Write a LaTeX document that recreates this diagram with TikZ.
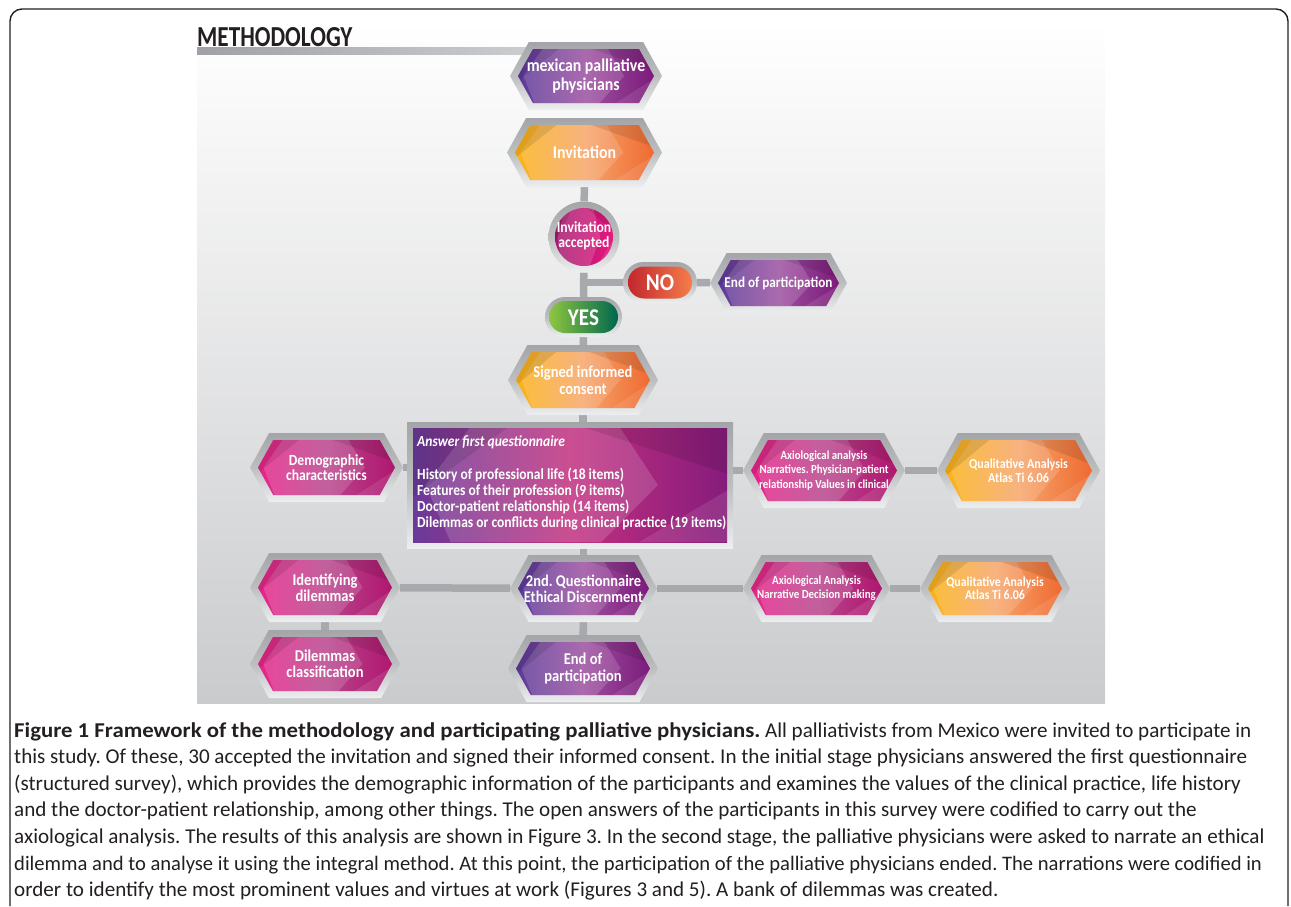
\documentclass[tikz,border=0pt]{standalone}
\usepackage{fontspec}
\setmainfont{Carlito}
\newfontfamily\labfont[FakeStretch=0.88]{Carlito}
\newfontfamily\headfont[FakeStretch=0.8]{Carlito}
\newfontfamily\capboldfont[FakeStretch=1.08]{Carlito}
\usetikzlibrary{shapes.symbols,shapes.misc,calc}
\pgfdeclarelayer{back}
\pgfsetlayers{back,main}
\frenchspacing

\definecolor{purpL}{HTML}{5B3A99}
\definecolor{purpM}{HTML}{9C50A0}
\definecolor{purpR}{HTML}{7D1B7B}
\definecolor{orngL}{HTML}{FBB316}
\definecolor{orngM}{HTML}{F6A66A}
\definecolor{orngR}{HTML}{EF6A32}
\definecolor{magL}{HTML}{E8258A}
\definecolor{magM}{HTML}{B8458C}
\definecolor{magR}{HTML}{B0176F}
\definecolor{circL}{HTML}{A3196F}
\definecolor{circR}{HTML}{E7197F}
\definecolor{noL}{HTML}{C2272D}
\definecolor{noR}{HTML}{F47D4C}
\definecolor{yesL}{HTML}{8DC63F}
\definecolor{yesR}{HTML}{00674F}
\definecolor{rectL}{HTML}{6A3A98}
\definecolor{rectM}{HTML}{C2307F}
\definecolor{rectR}{HTML}{861C7C}
\definecolor{silvTop}{HTML}{A3A5A8}
\definecolor{silvMid}{HTML}{BCBEC0}
\definecolor{silvBot}{HTML}{EDEEEF}
\definecolor{connGray}{HTML}{A7A9AC}
\definecolor{panelBot}{HTML}{CACBCD}
\definecolor{barL}{HTML}{9FA1A4}
\definecolor{barR}{HTML}{D3D4D6}
\definecolor{ink}{HTML}{231F20}

\newcommand\fs[2]{\fontsize{#1}{#2}\selectfont}
% fractional points inside a path picture (used within a let scope)
\newcommand\fx[1]{{\x1+#1*(\x2-\x1)}}
\newcommand\fy[1]{{\y2+#1*(\y1-\y2)}}

\tikzset{
  conn/.style={draw=connGray, line width=7.5pt},
  silver/.style={draw=none, top color=silvTop, bottom color=silvBot, middle color=silvMid},
  facets/.style={path picture={
    \fill[white, opacity=.15] let \p1=(path picture bounding box.south west), \p2=(path picture bounding box.north east) in
      (\fx{.18},\fy{0}) -- (\fx{.66},\fy{0}) -- (\fx{.78},\fy{.5}) -- (\fx{.6},\fy{1}) -- (\fx{.12},\fy{1}) -- (\fx{.04},\fy{.5}) -- cycle;
    \fill[black, opacity=.10] let \p1=(path picture bounding box.south west), \p2=(path picture bounding box.north east) in
      (\fx{.55},\fy{0}) -- (\fx{1},\fy{0}) -- (\fx{1},\fy{.4}) -- cycle;
    \fill[white, opacity=.10] let \p1=(path picture bounding box.south west), \p2=(path picture bounding box.north east) in
      (\fx{.72},\fy{1}) -- (\fx{1},\fy{.55}) -- (\fx{1},\fy{1}) -- cycle;
    \fill[black, opacity=.10] let \p1=(path picture bounding box.south west), \p2=(path picture bounding box.north east) in
      (\fx{0},\fy{0}) -- (\fx{.3},\fy{0}) -- (\fx{0},\fy{.6}) -- cycle;
  }},
  hexshape/.style={shape=signal, signal to=west and east, signal pointer angle=122, inner sep=0pt, outer sep=0pt},
  hexframe/.style={hexshape, silver},
  hexcore/.style={hexshape, draw=none, facets},
  labeltext/.style={text=white, align=center, inner sep=0pt},
  purplefill/.style={left color=purpL, right color=purpR, middle color=purpM},
  orangefill/.style={left color=orngL, right color=orngR, middle color=orngM},
  magentafill/.style={left color=magL, right color=magR, middle color=magM},
  circfill/.style={left color=circL, right color=circR},
  nofill/.style={left color=noL, right color=noR},
  yesfill/.style={left color=yesL, right color=yesR},
  rectfill/.style={left color=rectL, right color=rectR, middle color=rectM},
  captext/.style={anchor=base west, inner sep=0pt, text=ink, font=\fs{21.1}{25}},
}

% hexagonal box: name, x, y, width, height, palette, font size, line skip, text
\newcommand\hexbox[9]{%
  \pgfmathsetmacro\hexiw{#4-16}%
  \pgfmathsetmacro\hexih{#5-14}%
  \node[hexframe, minimum width=#4, minimum height=#5] (#1) at (#2,#3) {};
  \node[hexcore, #6, minimum width=\hexiw, minimum height=\hexih] (#1-in) at (#2,#3) {};
  \node[labeltext, font=\labfont\bfseries\fs{#7}{#8}] (#1-t) at (#2,#3) {#9};
}

\begin{document}
\begin{tikzpicture}[x=1pt, y=-1pt]
\useasboundingbox (0,0) rectangle (1291,906);

% outer frame
\draw[line width=1.4pt, draw=ink, rounded corners=12pt] (10,906) -- (10,9) -- (1288,9) -- (1288,906);

\begin{pgfonlayer}{back}
  \shade[top color=white, bottom color=panelBot] (197,22) rectangle (1105,703);
\end{pgfonlayer}

% heading
\node[anchor=base west, inner sep=0pt, text=ink, font=\headfont\bfseries\fs{29}{29}] (title) at (197,46) {METHODOLOGY};
\coordinate (barstart) at (197,51);

% main column
\hexbox{mex}{586}{76}{152}{68}{purplefill}{18}{19}{mexican palliative\\physicians}
\hexbox{inv}{584.5}{152.5}{155}{69}{orangefill}{18}{19}{Invitation}

\node[circle, silver, minimum size=71, inner sep=0pt] (acc) at (584,237) {};
\node[circle, draw=none, circfill, facets, minimum size=58, inner sep=0pt] (acc-in) at (584,237) {};
\node[labeltext, font=\labfont\bfseries\fs{15.5}{15.5}] (acc-t) at (584,236) {Invitation\\accepted};

\node[rounded rectangle, silver, minimum width=74, minimum height=41, inner sep=0pt] (no) at (660,282.5) {};
\node[rounded rectangle, draw=none, nofill, minimum width=64, minimum height=32, inner sep=0pt] (no-in) at (660,282.5) {};
\node[labeltext, font=\labfont\bfseries\fs{24}{24}] (no-t) at (660,283) {NO};

\hexbox{end1}{778.5}{283}{137}{60}{purplefill}{15}{15}{End of participation}

\node[rounded rectangle, silver, minimum width=77, minimum height=40, inner sep=0pt] (yes) at (583.5,317) {};
\node[rounded rectangle, draw=none, yesfill, minimum width=69, minimum height=32, inner sep=0pt] (yes-in) at (583.5,317) {};
\node[labeltext, font=\labfont\bfseries\fs{24}{24}] (yes-t) at (583.5,317.5) {YES};

\hexbox{consent}{583}{380}{150}{70}{orangefill}{16.5}{17}{Signed informed\\consent}

% first questionnaire
\node[rectangle, silver, minimum width=326, minimum height=126, inner sep=0pt] (q1) at (570,485) {};
\node[rectangle, draw=none, rectfill, facets, minimum width=314, minimum height=114, inner sep=0pt] (q1-in) at (570,485) {};
\node[anchor=north west, align=left, text=white, inner sep=0pt, font=\labfont\bfseries\fs{15.4}{16}] (q1-t) at (417,435.5)
  {{\itshape Answer first questionnaire}\\[17pt]
   History of professional life (18 items)\\
   Features of their profession (9 items)\\
   Doctor-patient relationship (14 items)\\
   Dilemmas or conflicts during clinical practice (19 items)};

\hexbox{demo}{326.5}{467.5}{153}{69}{magentafill}{15.5}{14.5}{Demographic\\characteristics}
\hexbox{axio1}{824}{470.5}{162}{75}{magentafill}{12.3}{14.5}{Axiological analysis\\Narratives. Physician-patient\\relationship Values in clinical}
\hexbox{qual1}{1018.5}{470.5}{163}{75}{orangefill}{13.7}{13.5}{Qualitative Analysis\\Atlas Ti 6.06}

% second questionnaire
\hexbox{q2}{583.5}{588.5}{147}{67}{purplefill}{16.4}{15.7}{2nd. Questionnaire\\Ethical Discernment}
\hexbox{ident}{325}{587.5}{150}{69}{magentafill}{16.5}{15.7}{Identifying\\dilemmas}
\hexbox{dclass}{325}{664}{150}{68}{magentafill}{16.5}{16.5}{Dilemmas\\classification}
\hexbox{end2}{583}{668.5}{150}{67}{purplefill}{16.5}{16.7}{End of\\participation}
\hexbox{axio2}{816.5}{588.5}{147}{67}{magentafill}{12.4}{14.3}{Axiological Analysis\\Narrative Decision making}
\hexbox{qual2}{995}{588.5}{150}{67}{orangefill}{13.5}{13.5}{Qualitative Analysis\\Atlas Ti 6.06}

% connectors
\begin{pgfonlayer}{back}
  \shade[left color=barL, right color=barR] ($(barstart)+(0,-3.5)$) rectangle ($(barstart -| mex)+(0,3.5)$);
  \draw[conn] (inv) -- (acc);
  \draw[conn] (acc) -- (yes);
  \draw[conn] (acc |- no) -- (no);
  \draw[conn] (no) -- (end1);
  \draw[conn] (yes) -- (consent);
  \draw[conn] (consent) -- (consent |- q1);
  \draw[conn] (demo) -- (demo -| q1);
  \draw[conn] (axio1 -| q1) -- (axio1);
  \draw[conn] (axio1) -- (qual1);
  \draw[conn] (q2 |- q1) -- (q2);
  \draw[conn] (q2) -- (end2);
  \draw[conn] (ident) -- (q2);
  \draw[conn] (q2) -- (axio2);
  \draw[conn] (axio2) -- (qual2);
  \draw[conn] (ident) -- (dclass);
\end{pgfonlayer}

% caption
\node[captext] (cap1) at (14,737) {{\capboldfont\bfseries Figure 1 Framework of the methodology and participating palliative physicians.} All palliativists from Mexico were invited to participate in};
\node[captext] (cap2) at (14,763.6) {this study. Of these, 30 accepted the invitation and signed their informed consent. In the initial stage physicians answered the first questionnaire};
\node[captext] (cap3) at (14,790.2) {(structured survey), which provides the demographic information of the participants and examines the values of the clinical practice, life history};
\node[captext] (cap4) at (14,816.8) {and the doctor-patient relationship, among other things. The open answers of the participants in this survey were codified to carry out the};
\node[captext] (cap5) at (14,843.4) {axiological analysis. The results of this analysis are shown in Figure 3. In the second stage, the palliative physicians were asked to narrate an ethical};
\node[captext, font=\fs{20.6}{25}] (cap6) at (14,870) {dilemma and to analyse it using the integral method. At this point, the participation of the palliative physicians ended. The narrations were codified in};
\node[captext] (cap7) at (14,896.6) {order to identify the most prominent values and virtues at work (Figures 3 and 5). A bank of dilemmas was created.};
\end{tikzpicture}
\end{document}
